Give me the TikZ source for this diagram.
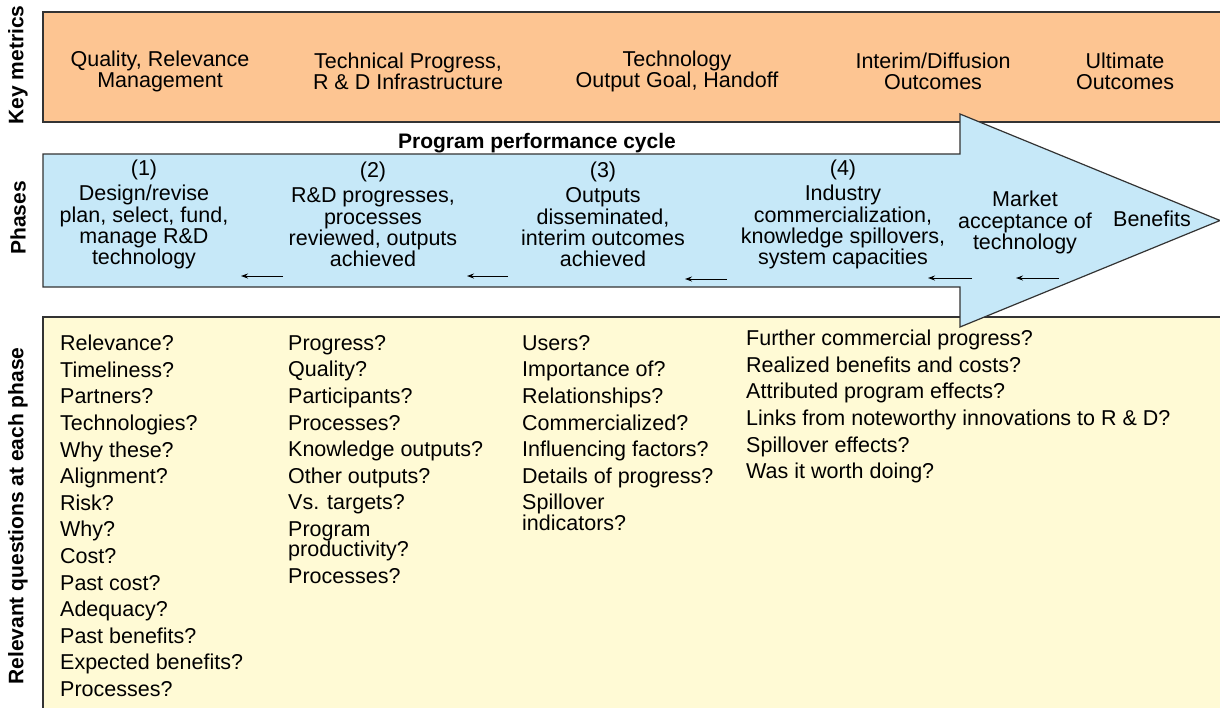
\documentclass[tikz,border=0pt]{standalone}
\usepackage{fontspec}
\setmainfont{Liberation Sans}
\usetikzlibrary{arrows.meta}
\definecolor{metricfill}{HTML}{FDC592}
\definecolor{phasefill}{HTML}{C6E8F8}
\definecolor{questfill}{HTML}{FFFAD5}
\definecolor{edge}{HTML}{333333}
\begin{document}
\begin{tikzpicture}[x=1pt,y=-1pt,
  panel/.style={draw=edge, line width=1.2pt},
  sidelabel/.style={rotate=90, inner sep=0pt, font=\bfseries\fontsize{21}{21}\selectfont},
  metric/.style={align=center, inner sep=0pt, font=\fontsize{21.5}{21.5}\selectfont},
  phase/.style={align=center, inner sep=0pt, font=\fontsize{21.5}{21.3}\selectfont},
  quest/.style={align=left, anchor=north west, inner sep=0pt, font=\fontsize{21.5}{26.6}\selectfont},
  backarrow/.style={line width=1pt, -{Stealth[length=7pt,width=5pt]}}
]
\useasboundingbox (0,0) rectangle (1220,707);
\clip (0,0) rectangle (1220,707);

% panels
\path[panel, fill=metricfill] (43,12) rectangle (1240,122);
\path[panel, fill=questfill] (43,317) rectangle (1240,730);
\path[panel, fill=phasefill] (43,154) -- (960,154) -- (960,114) -- (1220,220.5)
  -- (960,327) -- (960,287) -- (43,287) -- cycle;

% side labels
\node[sidelabel] (lkey) at (18,65) {Key metrics};
\node[sidelabel] (lphase) at (18,218) {Phases};
\node[sidelabel] (lquest) at (18,516) {Relevant questions at each phase};

% key metrics
\node[metric] (m1) at (160,71.5) {Quality, Relevance\\Management};
\node[metric] (m2) at (408,71.5) {Technical Progress,\\R \& D Infrastructure};
\node[metric] (m3) at (677,71.5) {Technology\\Output Goal, Handoff};
\node[metric] (m4) at (933,71.5) {Interim/Diffusion\\Outcomes};
\node[metric] (m5) at (1125,71.5) {Ultimate\\Outcomes};

% title
\node[inner sep=0pt, font=\bfseries\fontsize{21}{21}\selectfont] (title) at (537,143) {Program performance cycle};

% phases
\node[phase] (p1) at (144,214.5) {(1)\\[4pt]Design/revise\\plan, select, fund,\\manage R\&D\\technology};
\node[phase] (p2) at (373,214.5) {(2)\\[4pt]R\&D progresses,\\processes\\reviewed, outputs\\achieved};
\node[phase] (p3) at (603,214.5) {(3)\\[4pt]Outputs\\disseminated,\\interim outcomes\\achieved};
\node[phase] (p4) at (843,214.5) {(4)\\[4pt]Industry\\commercialization,\\knowledge spillovers,\\system capacities};
\node[phase] (p5) at (1025,222.5) {Market\\acceptance of\\technology};
\node[phase] (p6) at (1152,219) {Benefits};

% back arrows
\coordinate (a1s) at (283,276); \coordinate (a1e) at (241,276);
\coordinate (a2s) at (508,276); \coordinate (a2e) at (467,276);
\coordinate (a3s) at (727,279); \coordinate (a3e) at (685,279);
\coordinate (a4s) at (972,278); \coordinate (a4e) at (928,278);
\coordinate (a5s) at (1059,278); \coordinate (a5e) at (1016,278);
\draw[backarrow] (a1s) -- (a1e);
\draw[backarrow] (a2s) -- (a2e);
\draw[backarrow] (a3s) -- (a3e);
\draw[backarrow] (a4s) -- (a4e);
\draw[backarrow] (a5s) -- (a5e);

% questions
\node[quest] (q1) at (60,335) {Relevance?\\Timeliness?\\Partners?\\Technologies?\\Why these?\\Alignment?\\Risk?\\Why?\\Cost?\\Past cost?\\Adequacy?\\Past benefits?\\Expected benefits?\\Processes?};
\node[quest] (q2) at (288,335) {Progress?\\Quality?\\Participants?\\Processes?\\Knowledge outputs?\\Other outputs?\\Vs. targets?\\Program\\[-6.2pt]productivity?\\Processes?};
\node[quest] (q3) at (522,335) {Users?\\Importance of?\\Relationships?\\Commercialized?\\Influencing factors?\\Details of progress?\\Spillover\\[-6.2pt]indicators?};
\node[quest] (q4) at (746,330) {Further commercial progress?\\Realized benefits and costs?\\Attributed program effects?\\Links from noteworthy innovations to R \& D?\\Spillover effects?\\Was it worth doing?};
\end{tikzpicture}
\end{document}
